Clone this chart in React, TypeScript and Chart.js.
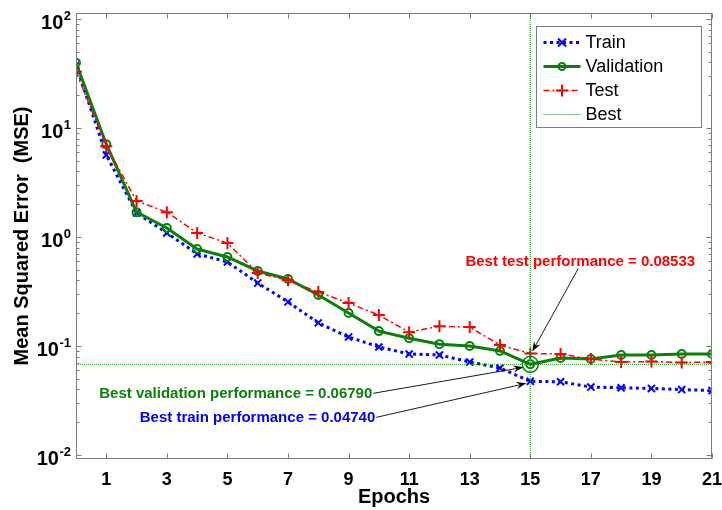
import React, { useEffect, useRef } from 'react';
import { Chart, registerables } from 'chart.js';

Chart.register(...registerables);

// ---------- data ----------
const epochs = [0, 1, 2, 3, 4, 5, 6, 7, 8, 9, 10, 11, 12, 13, 14, 15, 16, 17, 18, 19, 20, 21];
const trainMSE = [37.8, 5.65, 1.66, 1.09, 0.70, 0.59, 0.378, 0.254, 0.163, 0.121, 0.098, 0.0845, 0.0827, 0.0713, 0.0628, 0.0474, 0.047, 0.042, 0.0414, 0.0408, 0.0398, 0.0390];
const validationMSE = [39.7, 7.1, 1.69, 1.21, 0.776, 0.656, 0.488, 0.412, 0.294, 0.201, 0.137, 0.118, 0.104, 0.100, 0.090, 0.0679, 0.0776, 0.076, 0.0827, 0.0827, 0.0845, 0.0845];
const testMSE = [32.8, 6.8, 2.14, 1.69, 1.09, 0.88, 0.468, 0.40, 0.313, 0.248, 0.192, 0.134, 0.152, 0.149, 0.102, 0.08533, 0.0845, 0.076, 0.0713, 0.072, 0.0705, 0.0713];
const xTickValues = [1, 3, 5, 7, 9, 11, 13, 15, 17, 19, 21];
const yDecades = [0.01, 0.1, 1, 10, 100];
const yDecadeExponents = ['-2', '-1', '0', '1', '2'];
const bestEpoch = 15;
const bestTrain = 0.0474;
const bestValidation = 0.0679;
const bestTest = 0.08533;
const xMin = 0;
const xMax = 21;
const yMin = 0.00919;
const yMax = 113.5;
const legendLabels = ['Train', 'Validation', 'Test', 'Best'];
const annotationTexts = {
  test: 'Best test performance = 0.08533',
  validation: 'Best validation performance = 0.06790',
  train: 'Best train performance = 0.04740',
};

// ---------- styles ----------
const FONT = '"Liberation Sans", Arial, Helvetica, sans-serif';
const BLUE = '#0000ff';
const GREEN = '#0a800a';
const RED = '#ff0000';
const BEST_GREEN = '#1f9a1f';
const FRAME = '#7c7c7c';

function drawArrow(ctx: CanvasRenderingContext2D, x1: number, y1: number, x2: number, y2: number) {
  const ang = Math.atan2(y2 - y1, x2 - x1);
  const len = 10;
  const half = 3.6;
  ctx.save();
  ctx.strokeStyle = '#000';
  ctx.fillStyle = '#000';
  ctx.lineWidth = 0.9;
  ctx.beginPath();
  ctx.moveTo(x1, y1);
  ctx.lineTo(x2 - Math.cos(ang) * 6, y2 - Math.sin(ang) * 6);
  ctx.stroke();
  ctx.translate(x2, y2);
  ctx.rotate(ang);
  ctx.beginPath();
  ctx.moveTo(0, 0);
  ctx.lineTo(-len, -half);
  ctx.lineTo(-len * 0.65, 0);
  ctx.lineTo(-len, half);
  ctx.closePath();
  ctx.fill();
  ctx.restore();
}

const decorPlugin = {
  id: 'decor',
  afterDatasetsDraw(chart: any) {
    const { ctx, chartArea: a, scales } = chart;
    const xs = scales.x;
    const ys = scales.y;
    ctx.save();

    // frame
    const L = Math.round(a.left) + 0.5;
    const R = Math.round(a.right) - 0.5;
    const T = Math.round(a.top) + 0.5;
    const B = Math.round(a.bottom) - 0.5;
    ctx.strokeStyle = FRAME;
    ctx.lineWidth = 1;
    ctx.setLineDash([]);
    ctx.strokeRect(L, T, R - L, B - T);

    // ticks (inward, on all four sides)
    ctx.beginPath();
    for (const v of xTickValues) {
      const px = Math.round(xs.getPixelForValue(v)) + 0.5;
      ctx.moveTo(px, B);
      ctx.lineTo(px, B - 5);
      ctx.moveTo(px, T);
      ctx.lineTo(px, T + 5);
    }
    for (const d of yDecades) {
      for (let m = 1; m <= 9; m++) {
        const v = d * m;
        if (v < yMin || v > yMax) continue;
        const py = Math.round(ys.getPixelForValue(v)) + 0.5;
        const len = m === 1 ? 5 : 3;
        ctx.moveTo(L, py);
        ctx.lineTo(L + len, py);
        ctx.moveTo(R, py);
        ctx.lineTo(R - len, py);
      }
    }
    ctx.stroke();

    // y tick labels 10^n
    ctx.fillStyle = '#000';
    ctx.textAlign = 'right';
    ctx.textBaseline = 'alphabetic';
    yDecades.forEach((d, i) => {
      const py = ys.getPixelForValue(d);
      const exp = yDecadeExponents[i];
      const xr = a.left - 5;
      ctx.font = `bold 13px ${FONT}`;
      const ew = ctx.measureText(exp).width;
      ctx.fillText(exp, xr, py + 1);
      ctx.font = `bold 20px ${FONT}`;
      ctx.fillText('10', xr - ew - 0.5, py + 10);
    });

    // legend
    const lx = Math.round(a.right) - 176 + 0.5;
    const ly = Math.round(a.top) + 13 + 0.5;
    const lw = 165;
    const lh = 101;
    ctx.fillStyle = '#fff';
    ctx.fillRect(lx, ly, lw, lh);
    ctx.strokeStyle = FRAME;
    ctx.lineWidth = 1;
    ctx.strokeRect(lx, ly, lw, lh);
    const sx1 = lx + 7;
    const sx2 = lx + 44;
    const mx = (sx1 + sx2) / 2;
    const rowY = [ly + 16, ly + 40, ly + 64, ly + 88];
    // Train
    ctx.strokeStyle = BLUE;
    ctx.lineWidth = 3;
    ctx.setLineDash([3, 3.5]);
    ctx.beginPath(); ctx.moveTo(sx1, rowY[0]); ctx.lineTo(sx2, rowY[0]); ctx.stroke();
    ctx.setLineDash([]);
    ctx.lineWidth = 2;
    ctx.beginPath();
    ctx.moveTo(mx - 4, rowY[0] - 4); ctx.lineTo(mx + 4, rowY[0] + 4);
    ctx.moveTo(mx + 4, rowY[0] - 4); ctx.lineTo(mx - 4, rowY[0] + 4);
    ctx.stroke();
    // Validation
    ctx.strokeStyle = GREEN;
    ctx.lineWidth = 3;
    ctx.beginPath(); ctx.moveTo(sx1, rowY[1]); ctx.lineTo(sx2, rowY[1]); ctx.stroke();
    ctx.lineWidth = 2;
    ctx.beginPath(); ctx.arc(mx, rowY[1], 3.5, 0, Math.PI * 2); ctx.stroke();
    // Test
    ctx.strokeStyle = RED;
    ctx.lineWidth = 1.5;
    ctx.setLineDash([6, 3, 2, 3]);
    ctx.beginPath(); ctx.moveTo(sx1, rowY[2]); ctx.lineTo(sx2, rowY[2]); ctx.stroke();
    ctx.setLineDash([]);
    ctx.lineWidth = 2;
    ctx.beginPath();
    ctx.moveTo(mx - 6, rowY[2]); ctx.lineTo(mx + 6, rowY[2]);
    ctx.moveTo(mx, rowY[2] - 6); ctx.lineTo(mx, rowY[2] + 6);
    ctx.stroke();
    // Best
    ctx.strokeStyle = BEST_GREEN;
    ctx.lineWidth = 1;
    ctx.setLineDash([1, 1]);
    ctx.beginPath(); ctx.moveTo(sx1, rowY[3]); ctx.lineTo(sx2, rowY[3]); ctx.stroke();
    ctx.setLineDash([]);
    ctx.fillStyle = '#000';
    ctx.font = `18px ${FONT}`;
    ctx.textAlign = 'left';
    ctx.textBaseline = 'middle';
    legendLabels.forEach((t, i) => ctx.fillText(t, lx + 49, rowY[i] + 1));

    // annotations
    const p15 = xs.getPixelForValue(bestEpoch);
    const pTest = ys.getPixelForValue(bestTest);
    const pVal = ys.getPixelForValue(bestValidation);
    const pTrain = ys.getPixelForValue(bestTrain);
    ctx.font = `bold 15px ${FONT}`;
    ctx.textBaseline = 'middle';

    ctx.fillStyle = RED;
    ctx.textAlign = 'center';
    ctx.fillText(annotationTexts.test, p15 + 50, pTest - 92);
    drawArrow(ctx, p15 + 48, pTest - 85, p15 + 2, pTest - 2);

    ctx.fillStyle = GREEN;
    ctx.textAlign = 'right';
    ctx.fillText(annotationTexts.validation, p15 - 158, pVal + 30);
    drawArrow(ctx, p15 - 157, pVal + 29, p15 - 7, pVal + 3);

    ctx.fillStyle = BLUE;
    ctx.fillText(annotationTexts.train, p15 - 155, pTrain + 37);
    drawArrow(ctx, p15 - 154, pTrain + 36, p15 - 4, pTrain + 2);

    ctx.restore();
  },
};

export default function App() {
  const canvasRef = useRef<HTMLCanvasElement | null>(null);

  useEffect(() => {
    const canvas = canvasRef.current;
    if (!canvas) return;
    const toXY = (ys: number[]) => epochs.map((e, i) => ({ x: e, y: ys[i] }));

    const chart = new Chart(canvas, {
      type: 'line',
      data: {
        datasets: [
          {
            label: 'Best circle',
            data: [{ x: bestEpoch, y: bestValidation }],
            showLine: false,
            borderColor: GREEN,
            backgroundColor: 'transparent',
            pointStyle: 'circle',
            pointRadius: 8,
            pointBorderWidth: 1.5,
            order: 0,
          },
          {
            label: 'Best (vertical)',
            data: [{ x: bestEpoch, y: yMin }, { x: bestEpoch, y: yMax }],
            borderColor: BEST_GREEN,
            borderWidth: 1,
            borderDash: [1, 1],
            pointRadius: 0,
            fill: false,
            order: 1,
          },
          {
            label: 'Best (horizontal)',
            data: [{ x: xMin, y: bestValidation }, { x: xMax, y: bestValidation }],
            borderColor: BEST_GREEN,
            borderWidth: 1,
            borderDash: [1, 1],
            pointRadius: 0,
            fill: false,
            order: 2,
          },
          {
            label: 'Test',
            data: toXY(testMSE),
            borderColor: RED,
            borderWidth: 1.5,
            borderDash: [6, 3, 2, 3],
            pointStyle: 'cross',
            pointRadius: 6,
            pointBorderWidth: 2,
            pointBorderColor: RED,
            pointBackgroundColor: RED,
            fill: false,
            tension: 0,
            order: 3,
          },
          {
            label: 'Validation',
            data: toXY(validationMSE),
            borderColor: GREEN,
            borderWidth: 3,
            pointStyle: 'circle',
            pointRadius: 4,
            pointBorderWidth: 2,
            pointBorderColor: GREEN,
            pointBackgroundColor: 'transparent',
            fill: false,
            tension: 0,
            order: 4,
          },
          {
            label: 'Train',
            data: toXY(trainMSE),
            borderColor: BLUE,
            borderWidth: 3,
            borderDash: [3, 3.5],
            pointStyle: 'crossRot',
            pointRadius: 5,
            pointBorderWidth: 2,
            pointBorderColor: BLUE,
            pointBackgroundColor: BLUE,
            fill: false,
            tension: 0,
            order: 5,
          },
        ],
      },
      options: {
        animation: false,
        responsive: false,
        maintainAspectRatio: false,
        devicePixelRatio: 1,
        layout: { padding: { top: 13, right: 10, left: 0, bottom: 0 } },
        plugins: {
          legend: { display: false },
          tooltip: { enabled: false },
        },
        scales: {
          x: {
            type: 'linear',
            min: xMin,
            max: xMax,
            afterBuildTicks: (axis: any) => {
              axis.ticks = xTickValues.map((v) => ({ value: v }));
            },
            afterFit: (axis: any) => {
              axis.height = 51;
              axis.paddingLeft = 0;
              axis.paddingRight = 0;
            },
            grid: { display: false, drawTicks: false },
            border: { display: false },
            ticks: {
              color: '#000',
              font: { family: FONT, size: 18, weight: 'bold' },
              padding: 10,
              maxRotation: 0,
              autoSkip: false,
              callback: (v: any) => String(v),
            },
            title: {
              display: true,
              text: 'Epochs',
              color: '#000',
              font: { family: FONT, size: 20, weight: 'bold' },
              padding: { top: 0, bottom: 1 },
            },
          },
          y: {
            type: 'logarithmic',
            min: yMin,
            max: yMax,
            afterFit: (axis: any) => {
              axis.width = 76;
              axis.paddingTop = 0;
              axis.paddingBottom = 0;
            },
            grid: { display: false, drawTicks: false },
            border: { display: false },
            ticks: { display: false },
            title: {
              display: true,
              text: 'Mean Squared Error  (MSE)',
              color: '#000',
              font: { family: FONT, size: 20, weight: 'bold' },
              padding: { top: 10, bottom: 0 },
            },
          },
        },
      },
      plugins: [decorPlugin],
    } as any);

    return () => chart.destroy();
  }, []);

  return (
    <div style={{ position: 'absolute', left: 0, top: 0, width: 722, height: 510, background: '#fff' }}>
      <canvas ref={canvasRef} width={722} height={510} style={{ width: 722, height: 510, display: 'block' }} />
    </div>
  );
}
